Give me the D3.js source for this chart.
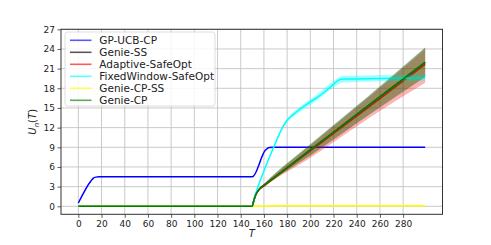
<!DOCTYPE html>
<html><head><meta charset="utf-8">
<script src="https://cdn.jsdelivr.net/npm/d3@7"></script>
<style>
html,body{margin:0;padding:0;background:#fff;}
svg{display:block;font-family:"DejaVu Sans",sans-serif;}
</style></head>
<body>
<svg id="c" width="491" height="245"></svg>
<script>
// ---- data ----
const xTicks = [0,20,40,60,80,100,120,140,160,180,200,220,240,260,280];
const yTicks = [0,3,6,9,12,15,18,21,24,27];
const seriesNames = ["GP-UCB-CP","Genie-SS","Adaptive-SafeOpt","FixedWindow-SafeOpt","Genie-CP-SS","Genie-CP"];
const seriesColors = ["#0000ff","#000000","#ff0000","#00ffff","#ffff00","#008000"];

const gpT   = [0,11,13,15,18,150,161,163,165,168,299];
const gpV   = [0.5,3.9,4.3,4.45,4.5,4.5,8.5,8.85,8.97,9.0,9.0];

const genieT = [0,150,151,152,153,155,157,160,200,250,299];
const genieV = [0,0,0.7,1.3,1.8,2.4,2.8,3.2,8.6,15.35,21.96];
const adaptV = [0,0,0.7,1.3,1.8,2.35,2.75,3.15,8.45,15.1,21.66];

const bandT   = [150,155,160,200,250,299];
const genieLo = [0,2.3,3.0,7.75,13.9,19.71];
const genieHi = [0,2.5,3.4,9.45,16.8,24.21];
const adaptLo = [0,2.2,2.9,7.4,13.4,18.85];
const adaptHi = [0,2.5,3.35,9.3,16.6,24.0];

const fwT  = [0,150,151,152,153,160,168,176,179,182,186,191,198,205,212,220,224,228,250,299];
const fwV  = [0,0,0.7,1.4,2.0,5.4,8.85,12.0,12.9,13.5,14.1,14.8,15.7,16.5,17.4,18.6,19.2,19.4,19.45,19.6];
const fwBandT = [150,153,160,168,176,182,191,205,220,228,299];
const fwLo = [0,1.95,5.25,8.65,11.75,13.2,14.4,16.05,18.1,18.9,19.15];
const fwHi = [0,2.05,5.55,9.05,12.25,13.8,15.2,16.95,19.1,19.9,20.05];

const ssT = [0,150,170,299];
const ssV = [0,0.02,0.1,0.1];

// ---- layout ----
const svg = d3.select("#c");
const L = 61, R = 442.5, T = 29.3, B = 214.3;
const x = d3.scaleLinear().domain([-14.95, 313.95]).range([L, R]);
const y = d3.scaleLinear().domain([-1.22, 27]).range([B, T]);

// grid
const grid = svg.append("g");
grid.selectAll(".gx").data(xTicks).enter().append("line")
  .attr("x1", d=>x(d)).attr("x2", d=>x(d)).attr("y1", T).attr("y2", B)
  .attr("stroke", "#c4c4c4").attr("stroke-width", 0.9);
grid.selectAll(".gy").data(yTicks).enter().append("line")
  .attr("y1", d=>y(d)).attr("y2", d=>y(d)).attr("x1", L).attr("x2", R)
  .attr("stroke", "#c4c4c4").attr("stroke-width", 0.9);

const zipLine = (ts, vs) => ts.map((t,i)=>[t, vs[i]]);
const line = d3.line().x(d=>x(d[0])).y(d=>y(d[1])).curve(d3.curveMonotoneX);
const area = d3.area().x(d=>x(d[0])).y0(d=>y(d[1])).y1(d=>y(d[2])).curve(d3.curveMonotoneX);
const band = (ts, lo, hi) => ts.map((t,i)=>[t, lo[i], hi[i]]);

const plot = svg.append("g");
function drawLine(ts, vs, color){
  plot.append("path").datum(zipLine(ts, vs)).attr("d", line)
    .attr("fill","none").attr("stroke", color).attr("stroke-width", 1.5)
    .attr("stroke-linejoin","round");
}
function drawBand(ts, lo, hi, color, op){
  plot.append("path").datum(band(ts, lo, hi)).attr("d", area)
    .attr("fill", color).attr("fill-opacity", op).attr("stroke","none");
}

drawLine(gpT, gpV, seriesColors[0]);
drawLine(genieT, genieV, seriesColors[1]);
drawBand(bandT, genieLo, genieHi, seriesColors[1], 0.2);
drawLine(genieT, adaptV, seriesColors[2]);
drawBand(bandT, adaptLo, adaptHi, seriesColors[2], 0.3);
drawBand(fwBandT, fwLo, fwHi, seriesColors[3], 0.35);
drawLine(fwT, fwV, seriesColors[3]);
drawLine(ssT, ssV, seriesColors[4]);
drawBand(bandT, genieLo, genieHi, seriesColors[5], 0.3);
drawLine(genieT, genieV, seriesColors[5]);

// frame
svg.append("rect").attr("x", L).attr("y", T).attr("width", R-L).attr("height", B-T)
  .attr("fill","none").attr("stroke","#333").attr("stroke-width",1);

// axes
const xAxis = svg.append("g").attr("transform",`translate(0,${B})`)
  .call(d3.axisBottom(x).tickValues(xTicks).tickSize(3.5).tickPadding(2.5));
const yAxis = svg.append("g").attr("transform",`translate(${L},0)`)
  .call(d3.axisLeft(y).tickValues(yTicks).tickSize(3.5).tickPadding(2.5));
[xAxis, yAxis].forEach(a=>{
  a.select(".domain").remove();
  a.selectAll(".tick line").attr("stroke","#333").attr("stroke-width",0.8);
  a.selectAll(".tick text").attr("fill","#222").style("font-size","9px")
    .style("font-family","'DejaVu Sans',sans-serif");
});

// axis labels
svg.append("text").attr("x", (L+R)/2).attr("y", 237).attr("text-anchor","middle")
  .style("font-size","10px").style("font-style","italic").attr("fill","#222").text("T");
const yl = svg.append("text").attr("transform",`translate(36,${(T+B)/2}) rotate(-90)`)
  .attr("text-anchor","middle").style("font-size","10px").attr("fill","#222");
yl.append("tspan").style("font-style","italic").text("U");
yl.append("tspan").attr("dy", 2.5).style("font-size","7px").style("font-style","italic").text("n");
yl.append("tspan").attr("dy", -2.5).text("(");
yl.append("tspan").style("font-style","italic").text("T");
yl.append("tspan").text(")");

// legend
const lg = svg.append("g");
lg.append("rect").attr("x", 65).attr("y", 32).attr("width", 150).attr("height", 74)
  .attr("rx", 2.5).attr("fill","#fff").attr("fill-opacity",0.85)
  .attr("stroke","#d6d6d6").attr("stroke-width",0.8);
seriesNames.forEach((name,i)=>{
  const yy = 40.3 + i*12;
  lg.append("line").attr("x1",70).attr("x2",91.5).attr("y1",yy).attr("y2",yy)
    .attr("stroke", seriesColors[i]).attr("stroke-width",1.6).attr("stroke-opacity",0.65);
  lg.append("text").attr("x",99.3).attr("y",yy+3.6).style("font-size","10.5px")
    .attr("fill","#222").text(name);
});
</script>
</body></html>
